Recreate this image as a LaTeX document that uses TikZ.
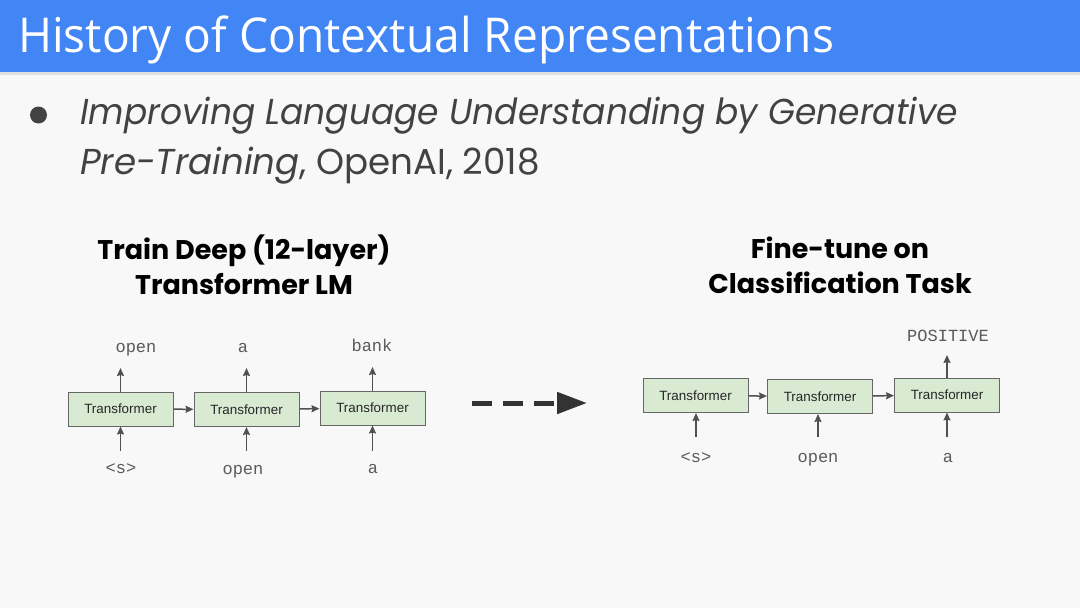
\documentclass[tikz,border=0pt]{standalone}
\usepackage{fontspec}
\setmainfont{Poppins}
\newfontfamily\titlefont{Open Sans}
\newfontfamily\boxfont{Liberation Sans}
\newfontfamily\tokfont{Liberation Mono}
\usetikzlibrary{arrows.meta}
\definecolor{bgc}{HTML}{F8F8F8}
\definecolor{hdr}{HTML}{4285F4}
\definecolor{txt}{HTML}{424242}
\definecolor{boxfill}{HTML}{D9EAD3}
\definecolor{boxline}{HTML}{666666}
\definecolor{arr}{HTML}{505050}
\definecolor{tok}{HTML}{5A5A5A}
\definecolor{big}{HTML}{333333}
\begin{document}
\begin{tikzpicture}[x=1pt,y=-1pt,
  tbox/.style={draw=boxline,line width=1pt,fill=boxfill,minimum width=105pt,minimum height=34pt,inner sep=0pt,font=\boxfont\fontsize{13.4}{14}\selectfont,text=black!85},
  tokn/.style={font=\tokfont\fontsize{17}{17}\selectfont,text=tok,inner sep=0pt,anchor=base},
  conn/.style={draw=arr,line width=1.5pt,-{Stealth[length=8pt,width=7pt,inset=1pt]}},
  head/.style={font=\bfseries\fontsize{27}{35}\selectfont,align=center,text=black,inner sep=0pt},
]
\useasboundingbox (0,0) rectangle (1080,608);
\fill[bgc] (0,0) rectangle (1080,608);
\fill[black!12] (0,72) rectangle (1080,75);
\fill[hdr] (0,0) rectangle (1080,72);
\node[anchor=base west,inner sep=0pt,text=white,font=\titlefont\fontsize{48}{48}\selectfont] (title) at (18,52) {\scalebox{0.96}[1]{History of Contextual Representations}};

\fill[txt] (38.5,115) circle (8.5);
\node[anchor=base west,inner sep=0pt,text=txt,font=\fontsize{36}{36}\selectfont] (l1) at (80,124) {\scalebox{0.957}[1]{\itshape Improving Language Understanding by Generative}};
\node[anchor=base west,inner sep=0pt,text=txt,font=\fontsize{36}{36}\selectfont] (l2) at (80,174) {\scalebox{0.99}[1]{\itshape Pre-Training\upshape, OpenAI, 2018}};

\node[head] (hl) at (244,265) {Train Deep (12-layer)\\Transformer LM};
\node[head] (hr) at (840,265) {Fine-tune on\\Classification Task};

% left group
\node[tbox] (L1) at (120.5,409) {Transformer};
\node[tbox] (L2) at (246.5,409.5) {Transformer};
\node[tbox] (L3) at (372.5,408) {Transformer};
\draw[conn] (L1) -- (L2);
\draw[conn] (L2) -- (L3);
\coordinate (L1t) at (120.5,368);
\coordinate (L2t) at (246.5,368);
\coordinate (L3t) at (372.5,367);
\coordinate (L1b) at (120.5,451);
\coordinate (L2b) at (246.5,451);
\coordinate (L3b) at (372.5,451);
\draw[conn] (L1.north) -- (L1t);
\draw[conn] (L2.north) -- (L2t);
\draw[conn] (L3.north) -- (L3t);
\draw[conn] (L1b) -- (L1.south);
\draw[conn] (L2b) -- (L2.south);
\draw[conn] (L3b) -- (L3.south);
\node[tokn] (o1) at (136,352) {open};
\node[tokn] (o2) at (243,352) {a};
\node[tokn] (o3) at (372,351) {bank};
\node[tokn] (i1) at (121,473) {<s>};
\node[tokn] (i2) at (243,474) {open};
\node[tokn] (i3) at (373,473) {a};

% big dashed arrow
\coordinate (da) at (472,403);
\coordinate (db) at (587,403);
\draw[big,line width=5pt,dash pattern=on 20pt off 11pt,-{Triangle[length=30pt,width=21pt]}] (da) -- (db);

% right group
\node[tbox] (R1) at (695.5,395.5) {Transformer};
\node[tbox] (R2) at (820,396.5) {Transformer};
\node[tbox] (R3) at (947,395) {Transformer};
\draw[conn] (R1) -- (R2);
\draw[conn] (R2) -- (R3);
\coordinate (R3t) at (947,355);
\draw[conn] (R3.north) -- (R3t);
\coordinate (R1b) at (696,437);
\coordinate (R2b) at (818,437);
\coordinate (R3b) at (947,437);
\draw[conn] (R1b) -- (R1b |- R1.south);
\draw[conn] (R2b) -- (R2b |- R2.south);
\draw[conn] (R3b) -- (R3.south);
\node[tokn] (p) at (948,341) {POSITIVE};
\node[tokn] (j1) at (696,462) {<s>};
\node[tokn] (j2) at (818,462) {open};
\node[tokn] (j3) at (948,462) {a};
\end{tikzpicture}
\end{document}
